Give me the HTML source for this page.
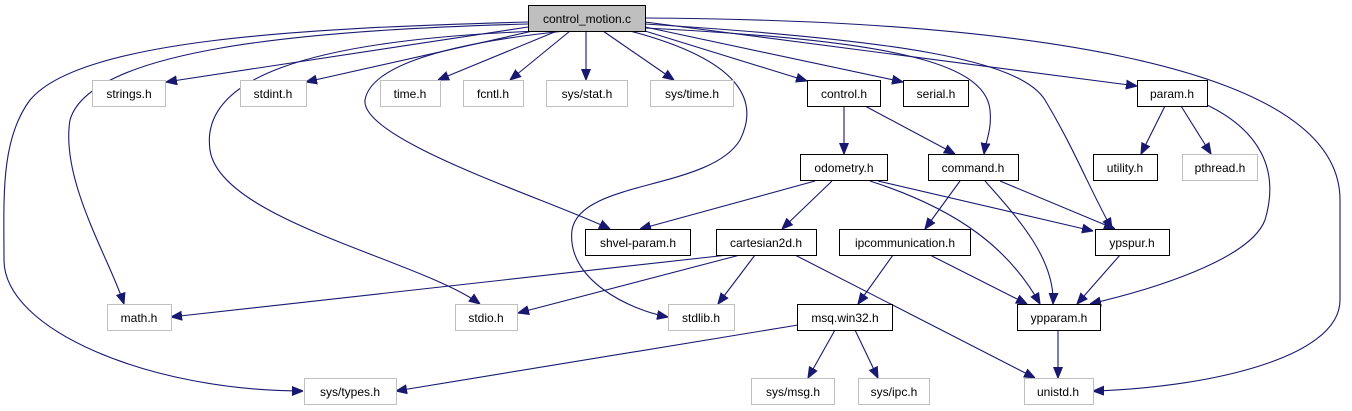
<!DOCTYPE html>
<html><head><meta charset="utf-8"><style>
html,body{margin:0;padding:0;background:#fff;}
svg{display:block;}
text{font-family:"Liberation Sans",sans-serif;font-size:12px;text-anchor:middle;}
</style></head><body>
<svg width="1352" height="411" viewBox="0 0 1352 411" xmlns="http://www.w3.org/2000/svg">
<defs><marker id="a" viewBox="0 0 10 10" refX="10" refY="5" markerWidth="11" markerHeight="11" markerUnits="userSpaceOnUse" orient="auto"><path d="M0,1 L10,5 L0,9 z" fill="#191970" stroke="#191970"/></marker></defs>
<g fill="none" stroke="#191970" stroke-width="1.1" marker-end="url(#a)">
<path d="M528,27 L166,82"/>
<path d="M533,31 L306,82"/>
<path d="M557,31 L438,80"/>
<path d="M570,31 L510,80"/>
<path d="M586,31 L586,80"/>
<path d="M603,31 L674,80"/>
<path d="M645,31 L807,81"/>
<path d="M645,27 L903,82"/>
<path d="M645,22 L1137,86"/>
<path d="M645,28 C880,40 985,60 990,110 C992,130 986,140 984,154"/>
<path d="M645,24 C900,40 1020,60 1045,100 C1075,150 1090,190 1112,229"/>
<path d="M645,18 C1000,20 1340,60 1340,200 L1340,300 C1340,360 1200,388 1093,391"/>
<path d="M528,24 C300,30 90,50 70,120 C60,180 110,260 124,304"/>
<path d="M528,22 C300,28 80,40 30,100 C0,140 4,200 4,260 C4,330 150,391 303,391"/>
<path d="M540,31 C300,40 200,80 210,150 C220,220 420,260 480,304"/>
<path d="M565,31 C430,45 370,70 365,100 C360,140 550,200 610,229"/>
<path d="M630,31 C740,60 760,100 740,140 C710,190 580,180 572,230 C566,280 630,310 668,317"/>
<path d="M844,106 L844,154"/>
<path d="M865,106 L955,154"/>
<path d="M1165,106 L1141,154"/>
<path d="M1181,106 L1211,154"/>
<path d="M1205,104 C1260,130 1280,170 1265,220 C1250,260 1150,290 1090,304"/>
<path d="M815,181 L640,229"/>
<path d="M832,181 L782,229"/>
<path d="M878,181 L1093,231"/>
<path d="M870,181 C960,210 1010,250 1040,304"/>
<path d="M960,181 L925,229"/>
<path d="M1000,181 L1115,229"/>
<path d="M985,181 C1020,220 1055,260 1053,304"/>
<path d="M728,255 L171,317"/>
<path d="M740,255 L518,313"/>
<path d="M755,255 L718,304"/>
<path d="M795,255 L1035,378"/>
<path d="M893,255 L858,304"/>
<path d="M930,255 L1027,304"/>
<path d="M1120,255 L1077,304"/>
<path d="M798,325 L396,391"/>
<path d="M835,330 L808,378"/>
<path d="M855,330 L878,378"/>
<path d="M1058,330 L1058,378"/>
</g>
<g stroke-width="1">
<rect x="528.5" y="5.5" width="117" height="26" fill="#bfbfbf" stroke="#000"/>
<g fill="#fff" stroke="#bfbfbf">
<rect x="92.5" y="80.5" width="73" height="26"/>
<rect x="240.5" y="80.5" width="66" height="26"/>
<rect x="380.5" y="80.5" width="60" height="26"/>
<rect x="463.5" y="80.5" width="60" height="26"/>
<rect x="546.5" y="80.5" width="81" height="26"/>
<rect x="650.5" y="80.5" width="83" height="26"/>
<rect x="1182.5" y="154.5" width="75" height="26"/>
<rect x="107.5" y="304.5" width="64" height="26"/>
<rect x="455.5" y="304.5" width="62" height="26"/>
<rect x="668.5" y="304.5" width="66" height="26"/>
<rect x="304.5" y="378.5" width="92" height="26"/>
<rect x="751.5" y="378.5" width="83" height="26"/>
<rect x="858.5" y="378.5" width="71" height="26"/>
<rect x="1024.5" y="378.5" width="69" height="26"/>
</g>
<g fill="#fff" stroke="#000">
<rect x="807.5" y="80.5" width="73" height="26"/>
<rect x="903.5" y="80.5" width="65" height="26"/>
<rect x="1137.5" y="80.5" width="70" height="26"/>
<rect x="800.5" y="154.5" width="87" height="26"/>
<rect x="928.5" y="154.5" width="90" height="26"/>
<rect x="1093.5" y="154.5" width="64" height="26"/>
<rect x="585.5" y="229.5" width="105" height="26"/>
<rect x="716.5" y="229.5" width="100" height="26"/>
<rect x="839.5" y="229.5" width="131" height="26"/>
<rect x="1095.5" y="229.5" width="74" height="26"/>
<rect x="797.5" y="304.5" width="95" height="26"/>
<rect x="1017.5" y="304.5" width="83" height="26"/>
</g>
</g>
<g fill="#000">
<text x="587" y="23">control_motion.c</text>
<text x="129" y="98">strings.h</text>
<text x="273" y="98">stdint.h</text>
<text x="410" y="98">time.h</text>
<text x="493" y="98">fcntl.h</text>
<text x="587" y="98">sys/stat.h</text>
<text x="692" y="98">sys/time.h</text>
<text x="844" y="98">control.h</text>
<text x="936" y="98">serial.h</text>
<text x="1172" y="98">param.h</text>
<text x="844" y="172">odometry.h</text>
<text x="973" y="172">command.h</text>
<text x="1125" y="172">utility.h</text>
<text x="1220" y="172">pthread.h</text>
<text x="638" y="247">shvel-param.h</text>
<text x="766" y="247">cartesian2d.h</text>
<text x="905" y="247">ipcommunication.h</text>
<text x="1132" y="247">ypspur.h</text>
<text x="139" y="322">math.h</text>
<text x="486" y="322">stdio.h</text>
<text x="701" y="322">stdlib.h</text>
<text x="845" y="322">msq.win32.h</text>
<text x="1059" y="322">ypparam.h</text>
<text x="350" y="396">sys/types.h</text>
<text x="793" y="396">sys/msg.h</text>
<text x="894" y="396">sys/ipc.h</text>
<text x="1058" y="396">unistd.h</text>
</g>
</svg>
</body></html>
